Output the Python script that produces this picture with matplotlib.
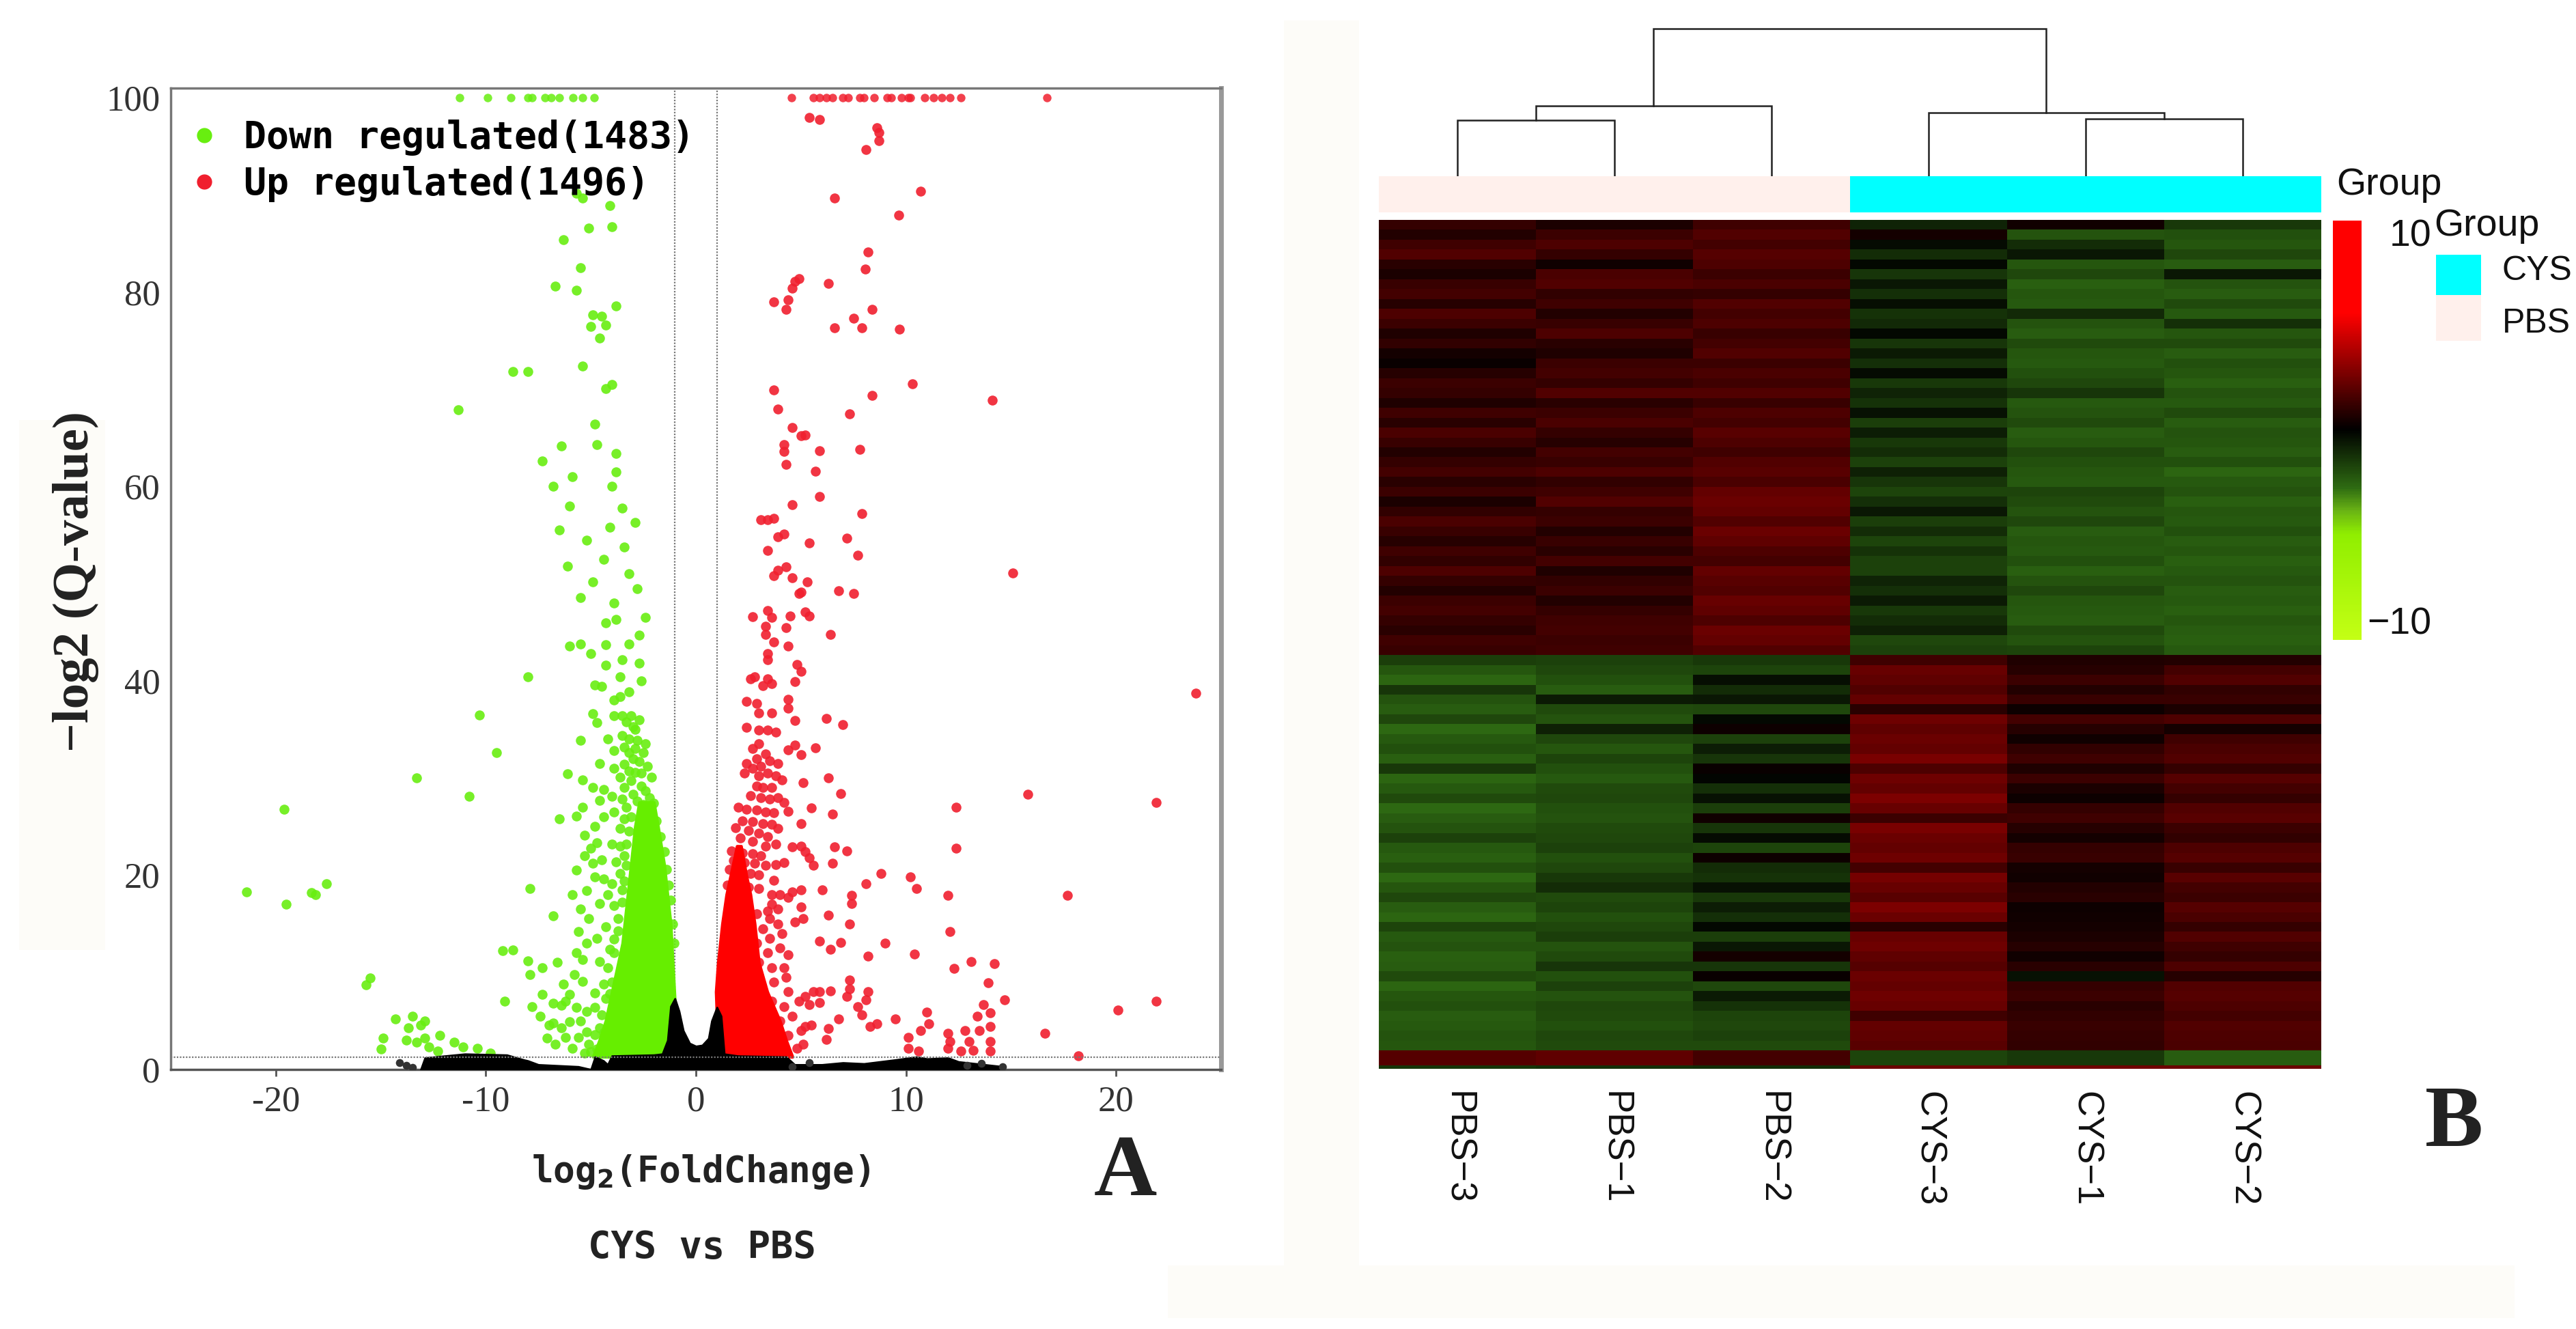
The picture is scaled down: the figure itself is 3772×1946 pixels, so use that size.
import numpy as np
import matplotlib
matplotlib.use("Agg")
import matplotlib.pyplot as plt
from matplotlib.colors import LinearSegmentedColormap, ListedColormap
from matplotlib.patches import Rectangle
from matplotlib.lines import Line2D

W, H = 3773, 1946

# ---- volcano plot, values ----
down_top_x = [-11.25, -9.9, -8.8, -8, -7.8, -7.2, -6.9, -6.5, -5.85, -5.4, -4.85]
up_top_x = [4.55, 5.6, 5.9, 6.2, 6.5, 7.0, 7.25, 7.8, 8, 8.5, 9.1, 9.3, 9.8, 10.1, 10.2, 10.9, 11.3, 11.7, 12.1, 12.6, 16.7]

down_points = [
    (-21.4, 18.3), (-19.6, 26.8), (-19.5, 17), (-18.3, 18.2), (-18.1, 18), (-17.6, 19.1), (-13.3, 30), (-10.8, 28.1),
    (-10.3, 36.5), (-9.5, 32.6), (-8, 40.4), (-7.9, 18.6), (-6.8, 15.8), (-9.2, 12.2), (-8.7, 12.3), (-8, 11.2),
    (-7.3, 10.5), (-6.6, 11), (-7.9, 9.8), (-15.5, 9.4), (-15.7, 8.7), (-9.1, 7), (-7.3, 7.7), (-7.8, 6.5), (-6.8, 6.8),
    (-14.3, 5.2), (-13.5, 5.5), (-12.9, 5), (-13.7, 4.3), (-13.1, 4.6), (-14.9, 3.2), (-15, 2.1), (-13.8, 3), (-13.3, 2.8),
    (-12.9, 3.2), (-12.7, 2.3), (-12.2, 3.5), (-11.5, 2.8), (-11.1, 2.3), (-10.4, 2.2), (-9.8, 1.7), (-12.3, 1.9),
    (-5.7, 90.2), (-5.4, 89.7), (-4.1, 88.9), (-5.1, 86.6), (-4, 86.7), (-6.3, 85.4), (-5.5, 82.5), (-6.7, 80.6),
    (-5.7, 80.2), (-3.8, 78.6), (-4.9, 77.7), (-4.5, 77.5), (-5, 76.5), (-4.3, 76.6), (-4.6, 75.3), (-8.7, 71.8),
    (-8, 71.8), (-5.4, 72.4), (-4, 70.5), (-4.3, 70.1), (-11.3, 67.9), (-4.8, 66.4), (-6.4, 64.2), (-4.7, 64.3),
    (-3.8, 63.4), (-7.3, 62.6), (-3.8, 61.5), (-5.9, 61), (-6.8, 60), (-4, 60), (-6, 58), (-3.5, 57.8), (-2.9, 56.3),
    (-4.1, 55.8), (-6.5, 55.5), (-5.2, 54.5), (-3.4, 53.8), (-4.4, 52.5), (-6.1, 51.8), (-3.2, 51), (-4.9, 50.2),
    (-2.8, 49.5), (-5.5, 48.6), (-3.9, 48), (-4.3, 46), (-3.8, 46.3), (-2.4, 46.5), (-6, 43.6), (-5.5, 43.8), (-4.3, 43.7),
    (-3.2, 43.8), (-2.7, 44.7), (-5, 42.8), (-3.5, 42.2), (-2.7, 41.8), (-4.3, 41.6), (-3.6, 40.4), (-2.6, 40),
    (-4.8, 39.6), (-4.5, 39.4), (-3.2, 38.9), (-3.6, 38.4), (-4.9, 36.6), (-4.7, 35.7), (-5.5, 33.9), (-3.9, 36.4),
    (-3.5, 36.4), (-3, 35.3), (-3.5, 34.4), (-2.8, 33.9), (-2.4, 33.5), (-3.9, 32.8), (-3.2, 32.6), (-2.7, 31.7), (-3.9, 31),
    (-6.1, 30.4), (-5.4, 29.8), (-3.6, 30.1), (-3.1, 29.7), (-2.1, 30.1), (-2.6, 29.2), (-4.4, 28.8), (-4.6, 27.7), (-4, 28.1),
    (-5.4, 27), (-5.7, 26.1), (-6.5, 25.8), (-3.9, 26.5), (-4.8, 25), (-5.3, 24.1), (-3.6, 24.8), (-4.7, 23.3), (-4, 23.2),
    (-4.9, 21.2), (-4.8, 19.8), (-4.4, 19.6), (-3.8, 21.4), (-4, 19.1), (-5.5, 16.5), (-4.6, 17.1), (-3.9, 16.9), (-5.6, 14.2),
    (-4.7, 13.5), (-4.3, 14.7), (-5.4, 11.3), (-4.6, 11.1), (-4.1, 12.4), (-5.4, 9.1), (-4.4, 8.8), (-4.8, 7.9), (-6, 7.7),
    (-6.2, 7), (-6.4, 6.6), (-5.7, 6.4), (-4.8, 6.4), (-6.8, 4.8), (-6.4, 4.3), (-5.5, 5), (-5.2, 3.9), (-4.6, 4.3),
    (-3.9, 5.7), (-5.1, 2.6), (-4.7, 2.1), (-5.3, 1.7), (-4.3, 2.8), (-3.3, 35.8), (-2.9, 35), (-3.2, 34), (-2.5, 32.6),
    (-3, 32), (-3.4, 31.4), (-2.3, 31.2), (-2.9, 30.6), (-3.4, 29), (-2.4, 28.7), (-3, 28.3), (-3.5, 27.8), (-2.2, 28),
    (-2.8, 27.6), (-3.3, 27), (-3.4, 25.8), (-3.6, 23), (-3.4, 22), (-3.6, 20.2), (-3.5, 18.5), (-3.7, 15.5), (-3.9, 13.4),
    (-3.1, 36.4), (-2.7, 36), (-3.4, 33.2), (-2.9, 33), (-2.6, 30.5), (-3.2, 30.7), (-2.5, 27.3), (-2, 27.4), (-3.1, 26),
    (-2.3, 26), (-1.9, 25.6), (-3.2, 24.5), (-2.5, 24.7), (-1.7, 24), (-3.3, 23.2), (-1.5, 22.4), (-3.3, 21), (-1.4, 20.6),
    (-3.4, 19.4), (-1.3, 19), (-3.5, 17.2), (-1.2, 17.4), (-3.7, 14.3), (-1.1, 15), (-3.9, 12), (-1.05, 13),
    (-4.2, 10.5), (-4, 9), (-4.3, 7.3), (-4.5, 5.6), (-4.8, 3.6), (-5, 1.8), (-4.4, 3.8), (-4.1, 7.8),
    (-5.8, 9.8), (-6.3, 8.8), (-5.2, 13), (-5.7, 12), (-5.1, 15.5), (-5.9, 18), (-5.2, 18.4), (-5.7, 20.5), (-5.3, 22),
    (-7, 4.6), (-7.4, 5.5), (-7.1, 3.2), (-6.2, 3.3), (-6.7, 2.6), (-5.9, 2.2), (-5.6, 3.3), (-6, 4.9), (-5.2, 6),
    (-3.9, 38), (-4.2, 34), (-4.6, 31.5), (-4.9, 29), (-4.4, 26), (-5, 22.8), (-4.5, 21.6), (-4.2, 18),
]

up_points = [
    (5.4, 98), (5.9, 97.8), (8.6, 96.9), (8.7, 96.4), (8.7, 95.6), (8.1, 94.7), (6.6, 89.7), (10.7, 90.4), (9.65, 87.9),
    (8.2, 84.1), (8.05, 82.4), (6.3, 80.9), (4.9, 81.4), (4.7, 81.1), (4.6, 80.4), (4.4, 79.2), (4.3, 78.2), (3.7, 79),
    (8.4, 78.2), (7.5, 77.3), (6.6, 76.3), (7.9, 76.3), (9.7, 76.2), (3.7, 69.9), (3.9, 68), (10.3, 70.6), (8.4, 69.4),
    (14.1, 68.9), (7.3, 67.5), (4.6, 66.1), (5, 65.2), (5.2, 65.3), (4.2, 64.3), (4.2, 63.6), (5.9, 63.7), (7.8, 63.8),
    (4.3, 62.3), (5.7, 61.6), (5.9, 59), (4.6, 58.1), (7.9, 57.2), (3.1, 56.6), (3.4, 56.6), (3.7, 56.7), (3.9, 54.8),
    (4.2, 55.1), (5.4, 54.2), (7.2, 54.7), (7.7, 52.9), (3.4, 53.4), (15.1, 51.1), (4.3, 51.7), (3.9, 51.4), (3.7, 50.8),
    (4.6, 50.6), (5.3, 50.2), (4.9, 49), (5, 49.1), (6.8, 49.3), (7.5, 49), (2.7, 46.6), (3.4, 47.2), (3.6, 46.5), (4.5, 46.7),
    (5.2, 47.1), (5.4, 46.7), (3.3, 45.6), (4.3, 45.5), (3.3, 44.8), (6.4, 44.8), (3.7, 44), (4.4, 43.6), (3.4, 42.8), (3.4, 42.2),
    (4.8, 41.7), (5, 41), (2.6, 40.2), (2.8, 40.4), (3.4, 40.2), (3.2, 39.5), (3.6, 39.7), (4.7, 39.9), (23.8, 38.7),
    (2.4, 37.9), (2.9, 37.7), (4.4, 38.1), (4.4, 37.2), (3, 36.7), (3.6, 36.7), (4.7, 35.9), (6.2, 36.1), (7, 35.5),
    (2.4, 35.2), (3, 34.9), (3.4, 34.9), (3.8, 34.7), (4.4, 32.9), (4.7, 33.4), (5, 32.4), (5.7, 33.1), (6.3, 30), (5.1, 29.5),
    (6.9, 28.4), (15.8, 28.3), (21.9, 27.5), (12.4, 27), (5.5, 26.9), (6.5, 26.3), (5, 25.3), (6.6, 22.9), (7.2, 22.5),
    (12.4, 22.8), (6.5, 21.2), (8.8, 20.2), (10.2, 19.8), (8.1, 19.1), (10.5, 18.6), (6, 18.5), (7.4, 17.9), (7.4, 17.1),
    (12, 17.9), (17.7, 17.9), (6.3, 15.9), (7.3, 15), (12.1, 14.2), (6.9, 13.1), (5.9, 13.2), (6.4, 12.4), (9, 13), (10.4, 11.9),
    (8.2, 11.7), (12.3, 10.4), (13.1, 11.1), (14.2, 10.9), (13.9, 8.9), (14.7, 7.2), (21.9, 7), (20.1, 6.1), (16.6, 3.7), (18.2, 1.4),
    (11, 5.9), (11.1, 4.7), (10.7, 4), (10.1, 3.3), (10.1, 2.2), (10.6, 1.9), (12, 3.7), (12.1, 2.9), (12, 2.2), (12.8, 4),
    (13, 2.9), (12.6, 1.9), (13.4, 5.5), (13.7, 6.7), (14, 5.8), (14, 4.4), (13.5, 4), (14, 2.9), (14, 1.9), (13.2, 2),
    (5.2, 7.5), (5.6, 8), (5.9, 8), (6.4, 8.1), (5.4, 6.7), (5.9, 6.9), (7.3, 9.2), (7.3, 8.3), (7.2, 7.5), (8.2, 8), (8.1, 7.2),
    (7.7, 6.5), (7.9, 5.6), (6.8, 5.2), (8.3, 4.4), (8.6, 4.7), (9.5, 5.2), (6.3, 4.2), (6.2, 3.1), (5.2, 4.4), (5.5, 4.6), (5.1, 2.6),
    (2.7, 33), (3, 33.5), (2.9, 32), (3.3, 32.5), (2.4, 31.5), (2.7, 31), (3.1, 31.2), (3.5, 31.8), (3.9, 31.5), (2.3, 30.5),
    (3, 30.2), (3.4, 30.5), (3.8, 30.2), (4.1, 29.8), (2.9, 29.2), (3.2, 29), (3.6, 29), (2.6, 28.2), (3.1, 28), (3.5, 27.8),
    (3.9, 28), (4.2, 27.5), (2, 27), (2.4, 26.8), (2.9, 26.7), (3.3, 26.5), (3.7, 26.4), (4.4, 26.6), (2.2, 25.6), (2.7, 25.5),
    (3.2, 25.3), (3.6, 25.2), (3.9, 24.8), (1.9, 24.9), (2.5, 24.6), (3, 24.3), (3.4, 24), (2.1, 23.8), (2.7, 23.5), (3.3, 23),
    (3.8, 23.2), (4.6, 22.9), (5, 23), (5.2, 22.4), (5.4, 21.8), (5.6, 21), (1.7, 22.5), (2.2, 22.3), (2.7, 22.2), (3.1, 22),
    (1.8, 21.5), (2.3, 21.3), (2.8, 21.2), (3.3, 21), (3.8, 21.1), (4.2, 21.3), (1.6, 20.6), (2.1, 20.4), (2.6, 20.2), (3, 20),
    (3.7, 19.5), (4.6, 18.3), (5, 18.5), (1.5, 19), (2, 19), (2.5, 18.8), (3, 18.6), (3.6, 18), (4, 18), (4.4, 17.7), (5, 16.7),
    (4.7, 15.2), (5.1, 15.5), (3.6, 17), (3.9, 16.5), (3.4, 16.3), (3.9, 15), (3.5, 15.5), (2.9, 16), (3.2, 14.5), (4.1, 14),
    (3.5, 13.5), (4, 12.5), (4.4, 11.8), (3.4, 12), (2.9, 13), (4.2, 10.5), (3.6, 10.5), (3, 11), (4.3, 9.5), (3.7, 9), (4.4, 8),
    (4.9, 7), (4.2, 6.5), (3.6, 7), (4.6, 5.5), (4, 5), (5, 4), (4.4, 3.5), (3.7, 4), (4.8, 2.2), (3.9, 2.5),
]

# outline of the solid green and red masses near the threshold
down_mass_y = [1.3, 3, 5, 7, 9, 11, 13, 15, 17, 19, 21, 23, 25, 27.5]
down_mass_left = [-4.9, -4.6, -4.3, -4.1, -3.9, -3.7, -3.5, -3.4, -3.3, -3.2, -3.1, -3.0, -2.9, -2.7]
down_mass_right = [-1, -1, -0.95, -1, -1.05, -1.1, -1.15, -1.2, -1.3, -1.4, -1.5, -1.65, -1.8, -2.0]
up_mass_y = [1.3, 3, 5, 8, 11, 15, 18, 20, 23]
up_mass_left = [1, 1, 1, 0.95, 1.05, 1.25, 1.45, 1.65, 1.95]
up_mass_right = [4.6, 4.3, 4.0, 3.4, 3.0, 2.8, 2.6, 2.4, 2.15]

# top of the black non-significant band
flat_x = [-13.1, -12.9, -11, -9, -8.2, -8, -7.5, -5.6, -5, -4.8, -4.4, -4.2, -4, -2, -1.6, -1.35, -1.2, -1, -0.8, -0.6, -0.3, 0, 0.3, 0.6, 0.75, 1, 1.2, 1.35, 2, 4.3, 4.7, 6, 7, 8, 9.5, 10.5, 11, 12, 12.5, 14.6]
flat_top = [0, 1.2, 1.6, 1.5, 1.0, 0.9, 0.5, 0.3, 0, 1.3, 0.9, 0.5, 1.4, 1.5, 1.6, 3, 6.5, 7.3, 6, 4, 2.7, 2.4, 2.5, 3.2, 5, 6.4, 5.5, 1.6, 1.4, 1.3, 0.5, 0.5, 0.7, 0.6, 1, 1.3, 1.1, 1.2, 0.8, 0.3]
grey_x = [-14.1, -13.8, -13.5, 4.6, 5.4, 12.9, 13.6, 14.6]
grey_y = [0.7, 0.4, 0.2, 0.3, 0.7, 0.4, 0.6, 0.3]

x_ticks = [-20, -10, 0, 10, 20]
y_ticks = [0, 20, 40, 60, 80, 100]

# ---- heatmap, columns in rows from the top ----
sample_names = ["PBS\u22123", "PBS\u22121", "PBS\u22122", "CYS\u22123", "CYS\u22121", "CYS\u22122"]
group_codes = [1, 1, 1, 0, 0, 0]
pbs3 = [1.2, 0.8, 1.5, 1.9, 1.0, 0.6, 1.3, 1.6, 0.9, 1.8,
        1.4, 0.7, 1.1, 0.5, 0.2, 0.9, 1.4, 1.2, 0.7, 1.5,
        1.0, 1.7, 1.3, 0.8, 1.2, 1.6, 1.0, 1.4, 0.6, 1.1,
        1.7, 1.3, 0.9, 1.5, 1.1, 1.8, 1.2, 0.8, 1.4, 1.6,
        1.2, 1.0, 1.5, 1.3,
        -1.7, -2.4, -2.8, -1.5, -2.3, -2.6, -2.0, -2.9, -2.5, -2.2,
        -2.7, -1.6, -2.8, -2.5, -2.1, -2.9, -2.6, -2.3, -1.8, -2.5,
        -2.7, -2.2, -2.9, -2.4, -2.0, -2.6, -2.8, -1.9, -2.5, -2.3,
        -2.7, -2.6, -2.1, -2.8, -2.4, -2.2, -2.6, -2.5, -2.3, -2.4,
        2.0, -1.5]
pbs1 = [0.6, 1.4, 1.8, 1.2, 0.4, 1.7, 1.9, 1.1, 1.5, 0.8,
        1.3, 1.8, 1.0, 0.7, 1.4, 1.6, 1.2, 1.9, 1.0, 1.4,
        1.7, 1.2, 0.9, 1.6, 1.3, 1.8, 1.1, 1.5, 1.9, 1.2,
        1.4, 0.8, 1.3, 1.0, 1.6, 0.7, 1.1, 1.4, 0.8, 1.2,
        1.5, 1.6, 1.4, 1.5,
        -1.8, -2.0, -2.2, -2.6, -0.7, -2.1, -2.3, -0.9, -2.0, -2.4,
        -1.9, -2.2, -2.5, -2.1, -2.0, -2.2, -2.3, -2.1, -2.0, -1.8,
        -2.2, -2.0, -1.6, -1.2, -2.1, -1.9, -2.2, -2.0, -1.7, -2.3,
        -2.1, -1.5, -2.2, -1.8, -2.3, -2.0, -2.1, -2.2, -2.0, -2.1,
        2.2, -1.3]
pbs2 = [1.5, 1.9, 1.6, 2.0, 1.8, 1.4, 1.7, 1.2, 1.9, 1.6,
        1.8, 1.3, 1.6, 1.9, 1.4, 1.7, 1.5, 1.9, 1.3, 1.8,
        1.6, 2.1, 1.8, 1.5, 1.9, 2.1, 1.7, 2.3, 2.5, 2.3,
        1.9, 2.5, 2.2, 1.8, 1.6, 2.3, 2.1, 1.9, 2.4, 2.2,
        1.8, 2.5, 2.3, 1.9,
        -1.6, -1.9, -0.4, -1.2, -0.6, -2.0, -0.2, 0.3, -1.8, -0.8,
        -1.5, 0.2, -0.1, -1.3, -0.5, -1.7, 0.4, -1.5, -0.3, -1.9,
        0.3, -1.2, -1.4, -0.5, -1.6, -0.8, -1.3, -0.2, -1.7, -0.6,
        0.5, -1.5, 0.2, -2.0, -0.7, -1.4, -1.9, -2.0, -1.8, -2.1,
        1.6, -1.2]
cys3 = [-1.0, 0.5, -0.3, -1.2, -0.2, -1.5, -0.6, -1.3, -0.4, -1.4,
        -1.1, -0.2, -1.5, -0.7, -1.3, -0.3, -1.6, -1.0, -1.4, -0.5,
        -1.7, -0.8, -1.6, -1.2, -1.8, -0.9, -1.5, -1.9, -1.3, -0.6,
        -1.7, -1.2, -1.9, -1.4, -1.8, -1.8, -1.0, -1.3, -0.7, -1.6,
        -1.2, -0.9, -2.0, -1.8,
        1.5, 2.4, 2.2, 1.9, 2.3, 1.0, 2.6, 2.2, 2.5, 2.3,
        2.8, 1.8, 2.6, 2.3, 2.9, 2.4, 1.4, 2.8, 2.5, 2.3,
        2.6, 1.6, 2.7, 2.4, 2.1, 2.9, 2.5, 1.0, 2.4, 2.6,
        2.2, 2.0, 2.5, 2.3, 2.6, 2.4, 1.5, 2.3, 2.2, 2.1,
        -1.9, 2.5]
cys1 = [0.4, -2.3, -1.2, -0.6, -2.4, -2.0, -2.7, -2.4, -2.5, -1.1,
        -2.3, -2.6, -2.1, -2.4, -2.5, -2.2, -2.0, -1.5, -2.5, -2.3,
        -2.1, -2.6, -2.4, -2.0, -2.2, -2.4, -2.5, -1.9, -2.1, -2.3,
        -2.0, -2.6, -2.4, -2.5, -2.2, -2.7, -2.3, -2.0, -2.4, -2.5,
        -2.6, -2.1, -2.3, -1.9,
        0.7, 0.9, 1.4, 0.8, 1.3, 0.3, 1.6, 0.9, 0.4, 1.1,
        1.5, 0.7, 1.4, 0.6, 0.3, 1.2, 1.5, 0.9, 0.5, 1.2,
        1.3, 0.5, 0.4, 0.8, 1.0, 0.3, 0.4, 0.5, 0.6, 0.9,
        0.4, 1.0, -0.5, 1.2, 1.4, 1.0, 1.1, 1.3, 1.2, 1.1,
        -1.6, 2.6]
cys2 = [-1.6, -2.2, -2.4, -2.0, -2.6, -0.6, -2.3, -2.6, -2.1, -2.5,
        -1.3, -2.4, -2.1, -2.6, -2.2, -2.4, -2.7, -2.3, -2.5, -2.1,
        -2.6, -2.3, -2.4, -2.6, -2.2, -2.8, -2.5, -2.3, -2.7, -2.4,
        -2.5, -2.2, -2.6, -2.4, -2.7, -2.5, -2.3, -2.6, -2.5, -2.7,
        -2.4, -2.6, -2.7, -2.5,
        0.8, 1.6, 1.9, 1.1, 1.3, 0.6, 1.8, 0.5, 1.5, 1.7,
        1.9, 1.2, 2.0, 1.6, 1.2, 1.9, 2.1, 1.4, 1.1, 1.8,
        2.0, 1.3, 2.1, 1.6, 1.4, 2.0, 1.7, 1.2, 1.9, 1.5,
        1.2, 1.8, 0.9, 1.9, 2.0, 1.8, 1.6, 1.9, 1.8, 1.7,
        -2.6, 2.5]

# dendrogram heights
height_root = 216
height_pbs = 103
height_pbs_sub = 82
height_cys = 93
height_cys_sub = 84

colorbar_limit = 10.8
colorbar_ticks = [-10, 10]
colorbar_labels = ["\u221210", "10"]


def px_axes(left, top, right, bottom):
    return fig.add_axes([left / W, 1 - bottom / H, (right - left) / W, (bottom - top) / H])


plt.rcParams['mathtext.fontset'] = 'dejavusans'
plt.rcParams['mathtext.default'] = 'bf'
fig = plt.figure(figsize=(W / 100, H / 100), dpi=100, facecolor="white")

# faint scan tint behind the panels
for x0, y0, x1, y1 in [(28, 615, 154, 1391), (1880, 30, 1990, 1930), (1710, 1853, 3682, 1930)]:
    fig.add_artist(Rectangle((x0 / W, 1 - y1 / H), (x1 - x0) / W, (y1 - y0) / H, transform=fig.transFigure, fc="#FDFCF8", ec="none", zorder=-5))

# ---- A: volcano ----
ax = px_axes(250, 129, 1788, 1566)
ax.patch.set_alpha(0)
ax.set_xlim(-25, 25)
ax.set_ylim(0, 101)
down_x, down_y = zip(*down_points)
up_x, up_y = zip(*up_points)
green = "#68EE10"
red = "#F01F2E"
ax.scatter(down_top_x, [100] * len(down_top_x), s=80, color=green, alpha=0.85, linewidths=0, zorder=2)
ax.scatter(up_top_x, [100] * len(up_top_x), s=80, color=red, alpha=0.85, linewidths=0, zorder=2)
ax.scatter(down_x, down_y, s=110, color=green, alpha=0.9, linewidths=0, zorder=2)
ax.scatter(up_x, up_y, s=110, color=red, alpha=0.9, linewidths=0, zorder=2)
ax.fill_betweenx(down_mass_y, down_mass_left, down_mass_right, color="#66EE00", lw=3, zorder=2)
ax.fill_betweenx(up_mass_y, up_mass_left, up_mass_right, color="#FF0000", lw=3, zorder=2)
ax.fill_between(flat_x, 0, flat_top, color="black", lw=2, zorder=3)
ax.scatter(grey_x, grey_y, s=70, color="#333333", linewidths=0, zorder=3)
ax.axvline(-1, color="#777777", lw=1.6, ls=(0, (1, 1)), zorder=1)
ax.axvline(1, color="#777777", lw=1.6, ls=(0, (1, 1)), zorder=1)
ax.axhline(1.3, color="#777777", lw=1.6, ls=(0, (1, 1)), zorder=4)
ax.set_xticks(x_ticks)
ax.set_yticks(y_ticks)
ax.set_xticklabels([str(t) for t in x_ticks])
ax.tick_params(axis="x", length=7, width=2, color="#555555", pad=10)
ax.tick_params(axis="y", length=0, pad=11)
for lab in ax.get_xticklabels() + ax.get_yticklabels():
    lab.set_family("Liberation Serif")
    lab.set_fontsize(38)
    lab.set_color("#333333")
for s in ["left", "top"]:
    ax.spines[s].set_linewidth(2.5)
    ax.spines[s].set_color("#777777")
ax.spines["bottom"].set_linewidth(2.5)
ax.spines["bottom"].set_color("#555555")
ax.spines["right"].set_linewidth(5)
ax.spines["right"].set_color("#999999")

handles = [Line2D([], [], ls="", marker="o", ms=16, mfc=green, mec="none"),
           Line2D([], [], ls="", marker="o", ms=16, mfc=red, mec="none")]
leg = ax.legend(handles, ["Down regulated(1483)", "Up regulated(1496)"], loc="upper left",
                bbox_to_anchor=(0.014, 0.968), frameon=False,
                prop={"family": "DejaVu Sans Mono", "size": 39.5, "weight": "bold"},
                labelspacing=0.28, handletextpad=0.56, handlelength=1.0, borderaxespad=0, borderpad=0)
leg.set_zorder(6)

fig.text(111 / W, 1 - 852 / H, "\u2212log2 (Q-value)", rotation=90, ha="center", va="center", family="Liberation Serif", weight="bold", fontsize=54, color="#222222")
fig.text(1026 / W, 1 - 1716 / H, "log$_2$(FoldChange)", ha="center", va="center", family="DejaVu Sans Mono", weight="bold", fontsize=38, color="#222222")
fig.text(1028 / W, 1 - 1826 / H, "CYS vs PBS", ha="center", va="center", family="DejaVu Sans Mono", weight="bold", fontsize=40, color="#222222")
fig.text(1648 / W, 1 - 1720 / H, "A", ha="center", va="center", family="Liberation Serif", weight="bold", fontsize=92, color="#222222")
fig.text(3594 / W, 1 - 1648 / H, "B", ha="center", va="center", family="Liberation Serif", weight="bold", fontsize=92, color="#222222")

# ---- B: heatmap ----
heat_cmap = LinearSegmentedColormap.from_list("heat", [
    (0.0, "#C4FF14"), ((-5.4 + 10.8) / 21.6, "#90EE00"), ((-4.2 + 10.8) / 21.6, "#6AB414"),
    ((-3.0 + 10.8) / 21.6, "#2E6B12"), (0.5, "#000000"), ((6.0 + 10.8) / 21.6, "#FF0000"), (1.0, "#FF0000")])

heat_values = np.column_stack([pbs3, pbs1, pbs2, cys3, cys1, cys2])
row_edges = np.r_[np.arange(85), 85.5, 85.85]
col_edges = np.arange(7)
ax_heat = px_axes(2019, 322, 3399, 1565)
ax_heat.pcolormesh(col_edges, row_edges, heat_values, cmap=heat_cmap, vmin=-colorbar_limit, vmax=colorbar_limit, antialiased=False)
ax_heat.set_ylim(row_edges[-1], 0)
ax_heat.set_xticks(col_edges[:-1] + 0.5)
ax_heat.set_xticklabels(sample_names, rotation=270, family="Liberation Sans", fontsize=38, color="#111111", va="top", ha="center")
ax_heat.set_yticks([])
ax_heat.tick_params(axis="x", length=0, pad=24)
for s in ax_heat.spines.values():
    s.set_visible(False)

# annotation bar
ax_group = px_axes(2019, 258, 3399, 311)
ax_group.pcolormesh(col_edges, [0, 1], [group_codes], cmap=ListedColormap(["#00FFFF", "#FFF0EC"]), vmin=0, vmax=1)
ax_group.axis("off")
fig.text(3421 / W, 1 - 271 / H, "Group", ha="left", va="center", family="Liberation Sans", fontsize=40, color="#111111")

# dendrogram
ax_den = px_axes(2019, 30, 3399, 258)
ax_den.set_xlim(0, 6)
ax_den.set_ylim(0, 228)
pos = col_edges[:-1] + 0.5
pbs_sub_mid = (pos[0] + pos[1]) / 2
pbs_mid = (pbs_sub_mid + pos[2]) / 2
cys_sub_mid = (pos[4] + pos[5]) / 2
cys_mid = (pos[3] + cys_sub_mid) / 2
den_links = [
    ([pos[0], pos[0], pos[1], pos[1]], [0, height_pbs_sub, height_pbs_sub, 0]),
    ([pbs_sub_mid, pbs_sub_mid, pos[2], pos[2]], [height_pbs_sub, height_pbs, height_pbs, 0]),
    ([pos[4], pos[4], pos[5], pos[5]], [0, height_cys_sub, height_cys_sub, 0]),
    ([pos[3], pos[3], cys_sub_mid, cys_sub_mid], [0, height_cys, height_cys, height_cys_sub]),
    ([pbs_mid, pbs_mid, cys_mid, cys_mid], [height_pbs, height_root, height_root, height_cys]),
]
for xs, ys in den_links:
    ax_den.plot(xs, ys, color="#222222", lw=1.8, solid_joinstyle="miter")
ax_den.axis("off")

# colour bar
ax_bar = px_axes(3416, 323, 3458, 937)
bar_levels = np.linspace(-colorbar_limit, colorbar_limit, 256)
ax_bar.pcolormesh([0, 1], np.r_[bar_levels, colorbar_limit + 0.01], bar_levels[:, None], cmap=heat_cmap, vmin=-colorbar_limit, vmax=colorbar_limit)
ax_bar.set_xticks([])
ax_bar.set_yticks([])
for tick, tick_label in zip(colorbar_ticks, colorbar_labels):
    ax_bar.text(3.43, tick, tick_label, transform=ax_bar.get_yaxis_transform(), ha="right", va="center", family="Liberation Sans", fontsize=40, color="#111111")
for s in ax_bar.spines.values():
    s.set_visible(False)

# group legend
fig.text(3564 / W, 1 - 331 / H, "Group", ha="left", va="center", family="Liberation Sans", fontsize=40, color="#111111")
fig.add_artist(Rectangle((3567 / W, 1 - 432 / H), 66 / W, 59 / H, transform=fig.transFigure, fc="#00FFFF", ec="none"))
fig.add_artist(Rectangle((3567 / W, 1 - 499 / H), 66 / W, 67 / H, transform=fig.transFigure, fc="#FFF0EC", ec="none"))
fig.text(3664 / W, 1 - 397 / H, "CYS", ha="left", va="center", family="Liberation Sans", fontsize=36, color="#111111")
fig.text(3664 / W, 1 - 474 / H, "PBS", ha="left", va="center", family="Liberation Sans", fontsize=36, color="#111111")

fig.savefig("out.png", dpi=100)
